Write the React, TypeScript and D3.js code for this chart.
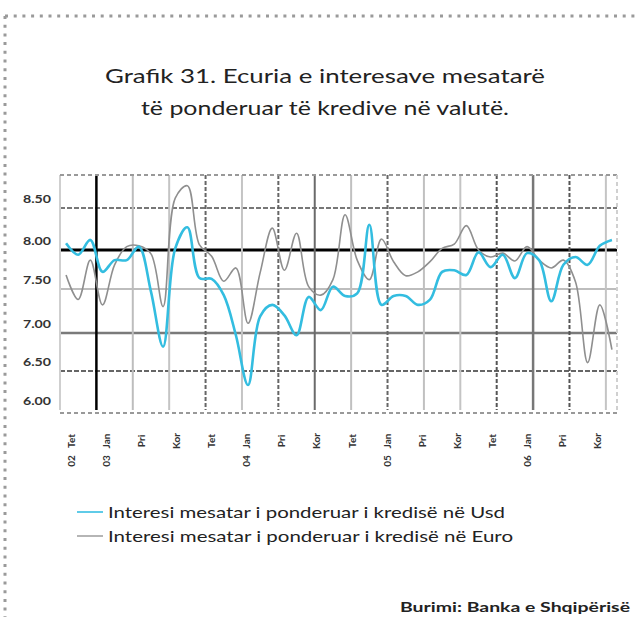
import React from "react";
import * as d3 from "d3";

const usd = [8.08, 7.94, 8.12, 7.72, 7.87, 7.87, 8.04, 7.47, 6.82, 8.02, 8.27, 7.64, 7.63, 7.43, 6.97, 6.32,
  7.19, 7.32, 7.2, 6.97, 7.41, 7.26, 7.53, 7.42, 7.45, 8.3, 7.32, 7.42, 7.42, 7.32, 7.38, 7.72,
  7.74, 7.68, 7.97, 7.78, 7.94, 7.64, 7.96, 7.87, 7.36, 7.81, 7.91, 7.81, 8.05, 8.12];
const euro = [7.68, 7.38, 7.87, 7.32, 7.81, 8.04, 8.05, 7.95, 7.3, 8.62, 8.77, 8.06, 7.92, 7.6, 7.77, 7.11,
  7.71, 8.26, 7.74, 8.2, 7.53, 7.43, 7.62, 8.42, 7.87, 7.62, 8.13, 7.85, 7.67, 7.72, 7.85, 8.02,
  8.07, 8.29, 8.0, 7.91, 7.96, 7.86, 8.04, 7.87, 7.77, 7.87, 7.59, 6.61, 7.32, 6.78];
const yTicks = [8.5, 8.0, 7.5, 7.0, 6.5, 6.0];
const monthLabels = ["Tet", "Jan", "Pri", "Kor", "Tet", "Jan", "Pri", "Kor", "Tet", "Jan", "Pri", "Kor", "Tet", "Jan", "Pri", "Kor"];
const yearLabels = ["02", "03", "", "", "", "04", "", "", "", "05", "", "", "", "06", "", ""];
const titleLines = ["Grafik 31. Ecuria e interesave mesatarë", "të ponderuar të kredive në valutë."];
const legendLabels = ["Interesi mesatar i ponderuar i kredisë në Usd", "Interesi mesatar i ponderuar i kredisë në Euro"];
const sourceText = "Burimi: Banka e Shqipërisë";

const vStyles = [
  { c: "#cfcfcf", w: 2, d: "" },
  { c: "#000", w: 2.5, d: "" },
  { c: "#bdbdbd", w: 2, d: "" },
  { c: "#c4c4c4", w: 2, d: "" },
  { c: "#666", w: 2, d: "4 2" },
  { c: "#c4c4c4", w: 2, d: "" },
  { c: "#666", w: 2, d: "4 2" },
  { c: "#6a6a6a", w: 2, d: "" },
  { c: "#c0c0c0", w: 2, d: "" },
  { c: "#666", w: 2, d: "4 2" },
  { c: "#c0c0c0", w: 2, d: "" },
  { c: "#c4c4c4", w: 2, d: "" },
  { c: "#555", w: 2, d: "4 2" },
  { c: "#777", w: 2.5, d: "" },
  { c: "#555", w: 2, d: "4 2" },
  { c: "#c4c4c4", w: 2, d: "" },
];
const hStyles: Record<string, { c: string; w: number; d: string }> = {
  "8.5": { c: "#777", w: 2, d: "5 2" },
  "8": { c: "#000", w: 3, d: "" },
  "7.5": { c: "#bdbdbd", w: 2, d: "" },
  "7": { c: "#7a7a7a", w: 2.5, d: "" },
  "6.5": { c: "#666", w: 2, d: "5 2" },
};

export default function App() {
  const W = 637, H = 617;
  const x = d3.scaleLinear().domain([0, 46]).range([60, 618]);
  const y = d3.scaleLinear().domain([6, 6.5, 7, 7.5, 8, 8.5, 8.9]).range([410, 371, 333, 289, 250, 208, 175]);
  const lx = d3.scalePoint<number>().domain(d3.range(monthLabels.length)).range([71, 597]);
  const line = d3.line<number>().x((_, i) => x(i + 0.5)).y((d) => y(d)).curve(d3.curveCatmullRom.alpha(0.5));
  const font = "Lato, 'DejaVu Sans', sans-serif";
  const [x0, x1] = x.range();
  const yTop = y(8.9), yBot = y(6);

  return (
    <svg width={W} height={H} style={{ position: "absolute", left: 0, top: 0, background: "#fff" }} fontFamily={font}>
      {/* outer dashed frame */}
      <line x1={5} y1={16} x2={W} y2={16} stroke="#9a9a9a" strokeWidth={3} strokeDasharray="3 5.7" />
      <line x1={5} y1={16} x2={5} y2={H} stroke="#9a9a9a" strokeWidth={3} strokeDasharray="3 5.7" />

      {/* title */}
      {titleLines.map((t, i) => (
        <text key={i} x={325} y={83 + i * 32} textAnchor="middle" fontSize={20} fill="#222"
          textLength={i === 0 ? 440 : 368} lengthAdjust="spacingAndGlyphs">{t}</text>
      ))}

      {/* horizontal grid */}
      {yTicks.filter((v) => v > 6).map((v) => {
        const s = hStyles[String(v)];
        return <line key={v} x1={x0} x2={617} y1={y(v)} y2={y(v)} stroke={s.c} strokeWidth={s.w} strokeDasharray={s.d} />;
      })}
      {/* vertical grid */}
      {d3.range(16).map((k) => {
        const s = vStyles[k];
        return <line key={k} x1={x(3 * k)} x2={x(3 * k)} y1={yTop} y2={yBot} stroke={s.c} strokeWidth={s.w} strokeDasharray={s.d} />;
      })}
      {/* plot frame */}
      <line x1={x0} x2={617} y1={yTop} y2={yTop} stroke="#999" strokeWidth={2} strokeDasharray="4 3" />
      <line x1={x0} x2={617} y1={yBot + 3} y2={yBot + 3} stroke="#999" strokeWidth={2} strokeDasharray="4 3" />
      <line x1={617} x2={617} y1={yTop} y2={yBot + 3} stroke="#d0d0d0" strokeWidth={2} strokeDasharray="4 3" />

      {/* series */}
      <path d={line(euro) || ""} fill="none" stroke="#8f8f8f" strokeWidth={1.6} />
      <path d={line(usd) || ""} fill="none" stroke="#33bde0" strokeWidth={2.6} />

      {/* y labels */}
      {yTicks.map((v) => (
        <text key={v} x={23} y={y(v) - 5} fontSize={11} fontWeight="bold" fill="#333"
          textLength={28} lengthAdjust="spacingAndGlyphs">{v.toFixed(2)}</text>
      ))}

      {/* x labels */}
      {monthLabels.map((m, i) => (
        <g key={i}>
          <text transform={`translate(${(lx(i) as number) + 4},441) rotate(-90)`} textAnchor="middle" fontSize={10} fontWeight="bold" fill="#333">{m}</text>
          {yearLabels[i] && (
            <text transform={`translate(${(lx(i) as number) + 4},461) rotate(-90)`} textAnchor="middle" fontSize={10} fontWeight="bold" fill="#333">{yearLabels[i]}</text>
          )}
        </g>
      ))}

      {/* legend */}
      {legendLabels.map((t, i) => (
        <g key={i}>
          <line x1={77} x2={103} y1={512 + i * 24} y2={512 + i * 24} stroke={i === 0 ? "#5fcbe8" : "#b5b5b5"} strokeWidth={2} />
          <text x={108} y={518 + i * 24} fontSize={16} fill="#222" textLength={i === 0 ? 397 : 405} lengthAdjust="spacingAndGlyphs">{t}</text>
        </g>
      ))}

      {/* source */}
      <text x={630} y={612} textAnchor="end" fontSize={14} fontWeight="bold" fill="#222" textLength={230} lengthAdjust="spacingAndGlyphs">{sourceText}</text>
    </svg>
  );
}
